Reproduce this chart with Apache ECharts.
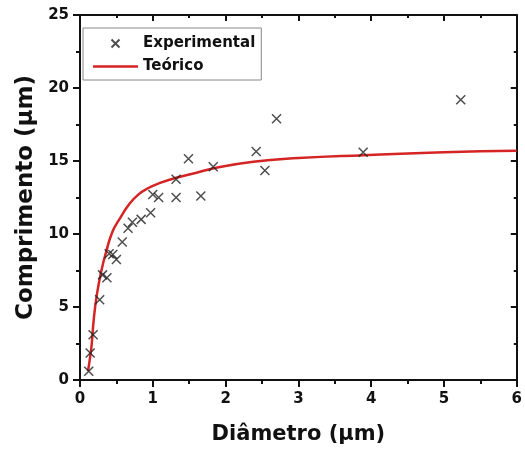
<!DOCTYPE html>
<html>
<head>
    <meta charset="utf-8">
    <title>Comprimento x Diâmetro</title>
    <script src="https://cdn.jsdelivr.net/npm/echarts@6/dist/echarts.min.js"></script>
</head>
<body style="margin:0">
    <div id="main" style="width:525px;height:450px;"></div>
    <script type="text/javascript">
        var expX = [0.12, 0.14, 0.18, 0.27, 0.31, 0.37, 0.40, 0.45, 0.50, 0.58, 0.66, 0.72, 0.84, 0.97, 1.00, 1.08, 1.32, 1.32, 1.49, 1.66, 1.83, 2.42, 2.54, 2.70, 3.89, 5.23]
        var expY = [0.6, 1.85, 3.1, 5.5, 7.2, 7.0, 8.65, 8.6, 8.25, 9.45, 10.4, 10.8, 11.0, 11.45, 12.7, 12.5, 12.5, 13.75, 15.15, 12.6, 14.6, 15.65, 14.35, 17.9, 15.6, 19.2]

        // curva teórica
        var teoX = [0.11, 0.14, 0.16, 0.19, 0.23, 0.29, 0.36, 0.45, 0.54, 0.67, 0.80, 0.94, 1.10, 1.32, 1.60, 1.84, 2.38, 3.00, 3.90, 5.00, 6.00]
        var teoY = [0.6, 1.6, 2.4, 4.2, 5.8, 7.4, 8.8, 10.2, 11.0, 12.0, 12.7, 13.15, 13.5, 13.85, 14.2, 14.5, 14.95, 15.2, 15.4, 15.6, 15.7]

        var xTicks = [0, 1, 2, 3, 4, 5, 6]
        var yTicks = [0, 5, 10, 15, 20, 25]

        var font = "DejaVu Sans"
        var boldText = { fontFamily: font, fontWeight: "bold", color: "#111", fontSize: 15 }

        function pares(xs, ys) {
            return xs.map(function (x, i) { return [x, ys[i]] })
        }

        var myChart = echarts.init(document.getElementById("main"))

        var option = {
            animation: false,
            backgroundColor: "#fff",
            grid: { left: 80, right: 2, top: 15, bottom: 67 },
            legend: {
                orient: "vertical",
                left: 83,
                top: 28,
                padding: [8, 6, 6, 10],
                borderColor: "#888",
                borderWidth: 1,
                itemWidth: 45,
                itemHeight: 8,
                itemGap: 8,
                textStyle: boldText,
                data: [
                    { name: "Experimental" },
                    { name: "Teórico", icon: "path://M0,0L45,0L45,2.6L0,2.6Z" }
                ]
            },
            xAxis: [
                {
                    type: "value",
                    min: xTicks[0],
                    max: xTicks[xTicks.length - 1],
                    interval: 1,
                    name: "Diâmetro (µm)",
                    nameLocation: "middle",
                    nameGap: 44,
                    nameTextStyle: { fontFamily: font, fontWeight: "bold", fontSize: 21, color: "#111" },
                    axisLine: { show: true, onZero: false, lineStyle: { color: "#111", width: 2 } },
                    axisTick: { show: true, length: 7, lineStyle: { color: "#111", width: 2 } },
                    minorTick: { show: true, splitNumber: 2, length: 4, lineStyle: { color: "#111", width: 2 } },
                    axisLabel: Object.assign({ margin: 12 }, boldText),
                    splitLine: { show: false }
                },
                {
                    type: "value",
                    position: "top",
                    min: xTicks[0],
                    max: xTicks[xTicks.length - 1],
                    interval: 1,
                    axisLine: { show: true, onZero: false, lineStyle: { color: "#111", width: 2 } },
                    axisTick: { show: true, inside: true, length: 6, lineStyle: { color: "#111", width: 2 } },
                    minorTick: { show: true, splitNumber: 2, length: 3, lineStyle: { color: "#111", width: 2 } },
                    axisLabel: { show: false },
                    splitLine: { show: false }
                }
            ],
            yAxis: [
                {
                    type: "value",
                    min: yTicks[0],
                    max: yTicks[yTicks.length - 1],
                    interval: 5,
                    name: "Comprimento (µm)",
                    nameLocation: "middle",
                    nameGap: 40,
                    nameTextStyle: { fontFamily: font, fontWeight: "bold", fontSize: 23, color: "#111" },
                    axisLine: { show: true, onZero: false, lineStyle: { color: "#111", width: 2 } },
                    axisTick: { show: true, length: 7, lineStyle: { color: "#111", width: 2 } },
                    minorTick: { show: true, splitNumber: 2, length: 4, lineStyle: { color: "#111", width: 2 } },
                    axisLabel: Object.assign({ margin: 11 }, boldText),
                    splitLine: { show: false }
                },
                {
                    type: "value",
                    position: "right",
                    min: yTicks[0],
                    max: yTicks[yTicks.length - 1],
                    interval: 5,
                    axisLine: { show: true, onZero: false, lineStyle: { color: "#111", width: 2 } },
                    axisTick: { show: true, inside: true, length: 6, lineStyle: { color: "#111", width: 2 } },
                    minorTick: { show: true, splitNumber: 2, length: 3, lineStyle: { color: "#111", width: 2 } },
                    axisLabel: { show: false },
                    splitLine: { show: false }
                }
            ],
            series: [
                {
                    name: "Teórico",
                    type: "line",
                    smooth: true,
                    symbol: "none",
                    lineStyle: { color: "#d42424", width: 2.5 },
                    itemStyle: { color: "#d42424" },
                    data: pares(teoX, teoY),
                    z: 2
                },
                {
                    name: "Experimental",
                    type: "scatter",
                    symbol: "path://M0,0L10,10M10,0L0,10",
                    symbolSize: 9,
                    symbolKeepAspect: true,
                    itemStyle: { color: "rgba(0,0,0,0)", borderColor: "#222", borderWidth: 1.5 },
                    data: pares(expX, expY),
                    z: 3
                }
            ]
        }

        myChart.setOption(option)
    </script>
</body>
</html>
